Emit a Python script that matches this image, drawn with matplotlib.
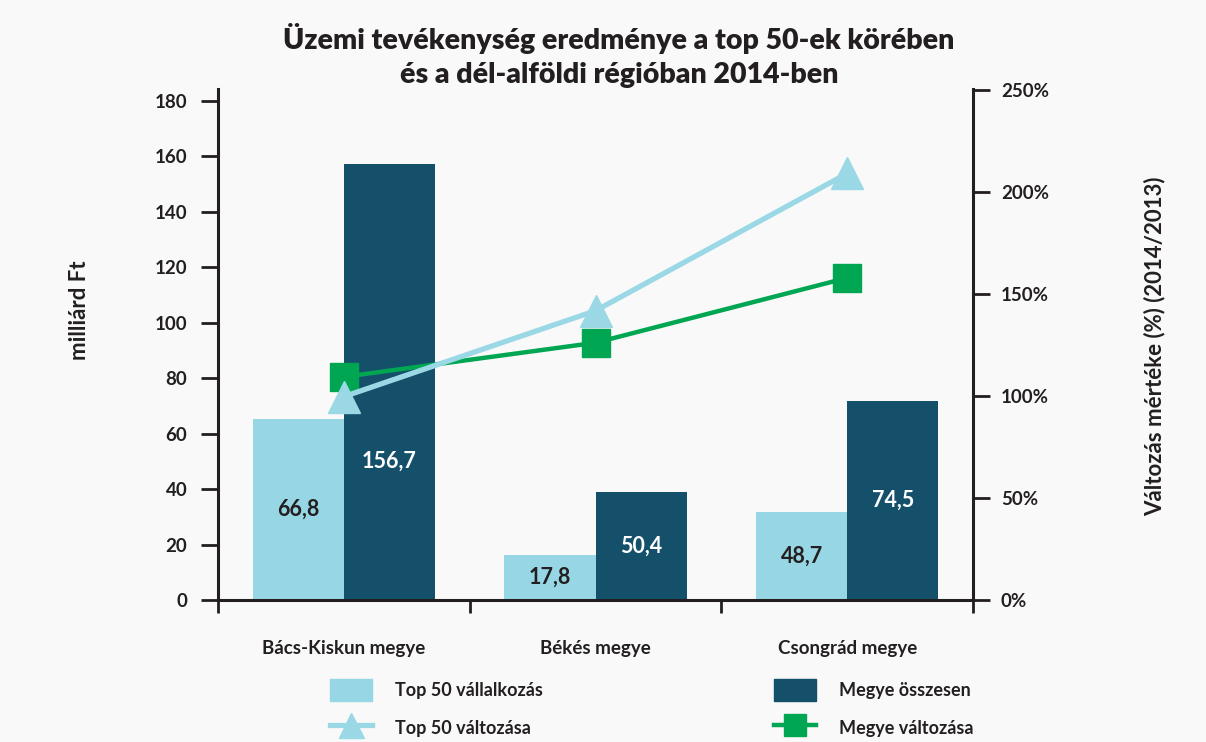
import matplotlib
matplotlib.use("Agg")
import matplotlib.pyplot as plt
from matplotlib.lines import Line2D
from matplotlib.patches import Patch
import numpy as np

plt.rcParams['font.family'] = ['Lato', 'DejaVu Sans']

categories = ["Bács-Kiskun megye", "Békés megye", "Csongrád megye"]
top50_values = [65.3, 16.2, 31.9]
megye_values = [157.3, 39.1, 71.8]
top50_labels = ["66,8", "17,8", "48,7"]
megye_labels = ["156,7", "50,4", "74,5"]
top50_change = [99.7, 141.8, 209.1]
megye_change = [109.4, 126.1, 157.9]
left_ticks = [0, 20, 40, 60, 80, 100, 120, 140, 160, 180]
right_ticks = [0, 50, 100, 150, 200, 250]
right_ticklabels = ["0%", "50%", "100%", "150%", "200%", "250%"]

c_light = "#97d7e5"
c_dark = "#14506a"
c_green = "#00a651"
c_line = "#9ad8e6"
c_text = "#231f20"

W, H = 1206, 742
ax_top_px = 89
fig = plt.figure(figsize=(W / 100, H / 100), dpi=100, facecolor="#f9f9f9")
ax = fig.add_axes([218 / W, 1 - 600 / H, (973 - 218) / W, (600 - ax_top_px) / H])
ax.set_facecolor("none")

x = np.arange(len(categories))
bw = 0.362
ax.bar(x - bw / 2, top50_values, bw, color=c_light, zorder=2)
ax.bar(x + bw / 2, megye_values, bw, color=c_dark, zorder=2)

for xi, h, lab in zip(x, top50_values, top50_labels):
    ax.text(xi - bw / 2, min(h / 2, 50), lab, ha="center", va="center",
            fontsize=15.5, fontweight="bold", color=c_text, zorder=5)
for xi, h, lab in zip(x, megye_values, megye_labels):
    ax.text(xi + bw / 2, min(h / 2, 50), lab, ha="center", va="center",
            fontsize=15.5, fontweight="bold", color="white", zorder=5)

ax.set_xlim(-0.5, 2.5)
ax.set_ylim(0, (600 - ax_top_px) / (499 / 180))
ax.set_yticks(left_ticks)
ax.set_yticklabels([str(t) for t in left_ticks], fontsize=13.5, fontweight="bold", color=c_text)
ax.set_xticks([-0.5, 0.5, 1.5, 2.5])
ax.set_xticklabels([])
ax.tick_params(axis="x", direction="out", length=9, width=2, color=c_text)
ax.tick_params(axis="y", direction="out", length=12, width=2, color=c_text, pad=10)
for s in ["top", "right"]:
    ax.spines[s].set_visible(False)
for s in ["left", "bottom"]:
    ax.spines[s].set_linewidth(2.2)
    ax.spines[s].set_color(c_text)

for xi, cat in zip(x, categories):
    ax.text(xi, -0.094, cat, transform=ax.get_xaxis_transform(), ha="center", va="center",
            fontsize=13.5, fontweight="bold", color=c_text)

ax2 = ax.twinx()
ax2.set_ylim(0, (600 - ax_top_px) / 2.04)
ax2.set_yticks(right_ticks)
ax2.set_yticklabels(right_ticklabels, fontsize=13.5, fontweight="bold", color=c_text)
ax2.tick_params(axis="y", direction="out", length=12, width=2, color=c_text, pad=8)
for s in ["top", "left", "bottom"]:
    ax2.spines[s].set_visible(False)
ax2.spines["right"].set_linewidth(2.2)
ax2.spines["right"].set_color(c_text)

ax2.plot(x, megye_change, color=c_green, lw=3.2, marker="s", markersize=20, zorder=3)
ax2.plot(x, top50_change, color=c_line, lw=3.8, marker="^", markersize=23, zorder=4)

fig.text(80 / W, 1 - 310 / H, "milliárd Ft", rotation=90, ha="center", va="center",
         fontsize=16, fontweight="bold", color=c_text)
fig.text(1155 / W, 1 - 346 / H, "Változás mértéke (%) (2014/2013)", rotation=90,
         ha="center", va="center", fontsize=16, fontweight="bold", color=c_text)

fig.text(619 / W, 1 - 38 / H, "Üzemi tevékenység eredménye a top 50-ek körében",
         ha="center", va="center", fontsize=20.5, fontweight="heavy", color=c_text)
fig.text(619 / W, 1 - 75 / H, "és a dél-alföldi régióban 2014-ben",
         ha="center", va="center", fontsize=20.5, fontweight="heavy", color=c_text)

h1 = [Patch(color=c_light), Line2D([], [], color=c_line, lw=3.8, marker="^", markersize=18)]
h2 = [Patch(color=c_dark), Line2D([], [], color=c_green, lw=3.2, marker="s", markersize=16)]
legkw = dict(loc="center left", frameon=False, handlelength=2.3, handleheight=1.5,
             labelspacing=0.85, handletextpad=1.3, prop={"size": 13, "weight": "bold"})
leg1 = fig.legend(h1, ["Top 50 vállalkozás", "Top 50 változása"],
                  bbox_to_anchor=(314 / W, 1 - 709 / H), **legkw)
leg2 = fig.legend(h2, ["Megye összesen", "Megye változása"],
                  bbox_to_anchor=(758 / W, 1 - 709 / H), **legkw)
for lg in (leg1, leg2):
    for t in lg.get_texts():
        t.set_color(c_text)

fig.savefig("out.png", dpi=100, facecolor=fig.get_facecolor())
